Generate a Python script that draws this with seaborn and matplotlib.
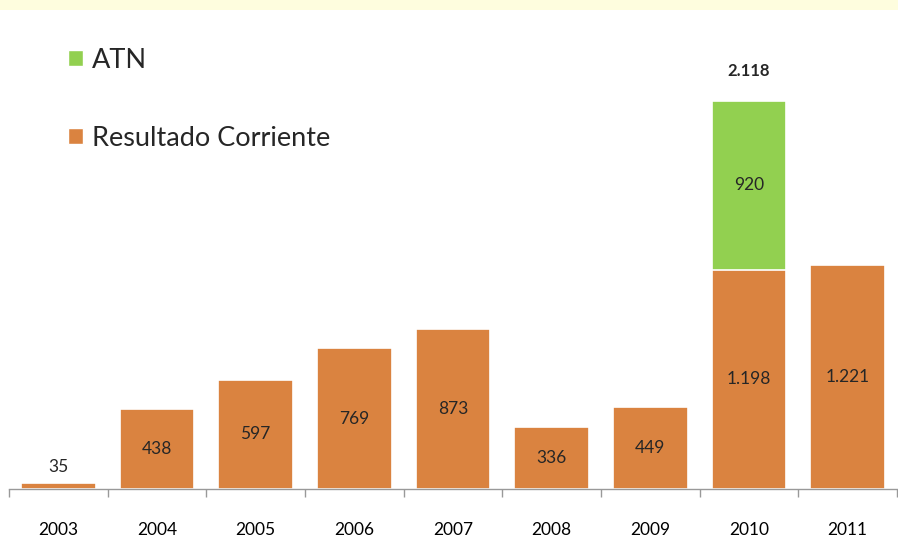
import pandas as pd
import matplotlib.pyplot as plt
import seaborn as sns
from matplotlib.patches import Rectangle
from matplotlib.ticker import FixedLocator

years = ['2003', '2004', '2005', '2006', '2007', '2008', '2009', '2010', '2011']
resultado = [35, 438, 597, 769, 873, 336, 449, 1198, 1221]
atn = [0, 0, 0, 0, 0, 0, 0, 920, 0]
rc_labels = ['35', '438', '597', '769', '873', '336', '449', '1.198', '1.221']
atn_label = '920'
total_label = '2.118'

ORANGE = '#DA8340'
GREEN = '#92D050'

sns.set_style('white')
plt.rcParams['font.family'] = ['Lato', 'DejaVu Sans']

df = pd.DataFrame({'year': years, 'resultado': resultado, 'atn': atn})
df['total'] = df['resultado'] + df['atn']

fig = plt.figure(figsize=(8.98, 5.49), dpi=100)
# light yellow strip at the very top
fig.patches.append(Rectangle((0, 1 - 10 / 549), 1, 10 / 549, transform=fig.transFigure,
                             facecolor='#FEFDDE', edgecolor='none', zorder=0))
ax = fig.add_axes([9 / 898, 60 / 549, 888 / 898, 479 / 549])

sns.barplot(data=df, x='year', y='total', color=GREEN, width=0.76,
            edgecolor='white', linewidth=1.2, saturation=1, ax=ax)
sns.barplot(data=df, x='year', y='resultado', color=ORANGE, width=0.76,
            edgecolor='white', linewidth=1.2, saturation=1, ax=ax)

ax.set_xlim(-0.5, len(years) - 0.5)
ax.set_ylim(0, 479 / 0.1832)
ax.set_xlabel('')
ax.set_ylabel('')
ax.set_yticks([])

for s in ['top', 'right', 'left']:
    ax.spines[s].set_visible(False)
ax.spines['bottom'].set_color('#999999')
ax.spines['bottom'].set_linewidth(1)

ax.tick_params(axis='x', which='major', length=0, pad=24, labelsize=12.5, labelcolor='black')
ax.xaxis.set_minor_locator(FixedLocator([i - 0.5 for i in range(len(years) + 1)]))
ax.tick_params(axis='x', which='minor', bottom=True, length=6, color='#999999', width=1)

# value labels
for i, (v, lab) in enumerate(zip(resultado, rc_labels)):
    if v < 100:
        ax.text(i, v + 40, lab, ha='center', va='bottom', fontsize=12.5)
    else:
        ax.text(i, v / 2, lab, ha='center', va='center', fontsize=12.5)
for i, a in enumerate(atn):
    if a > 0:
        ax.text(i, resultado[i] + a / 2, atn_label, ha='center', va='center', fontsize=12.5)
        ax.text(i, resultado[i] + a + 165, total_label, ha='center', va='center',
                fontsize=12, fontweight='bold')

handles = [Rectangle((0, 0), 1, 1, facecolor=GREEN, edgecolor='white'),
           Rectangle((0, 0), 1, 1, facecolor=ORANGE, edgecolor='white')]
ax.legend(handles, ['ATN', 'Resultado Corriente'], loc='upper left',
          bbox_to_anchor=(48 / 888, 1 - 27 / 479), frameon=False, fontsize=19.5,
          handlelength=0.55, handleheight=0.55, handletextpad=0.35, labelspacing=1.95,
          borderaxespad=0)

fig.savefig('out.png', dpi=100)
